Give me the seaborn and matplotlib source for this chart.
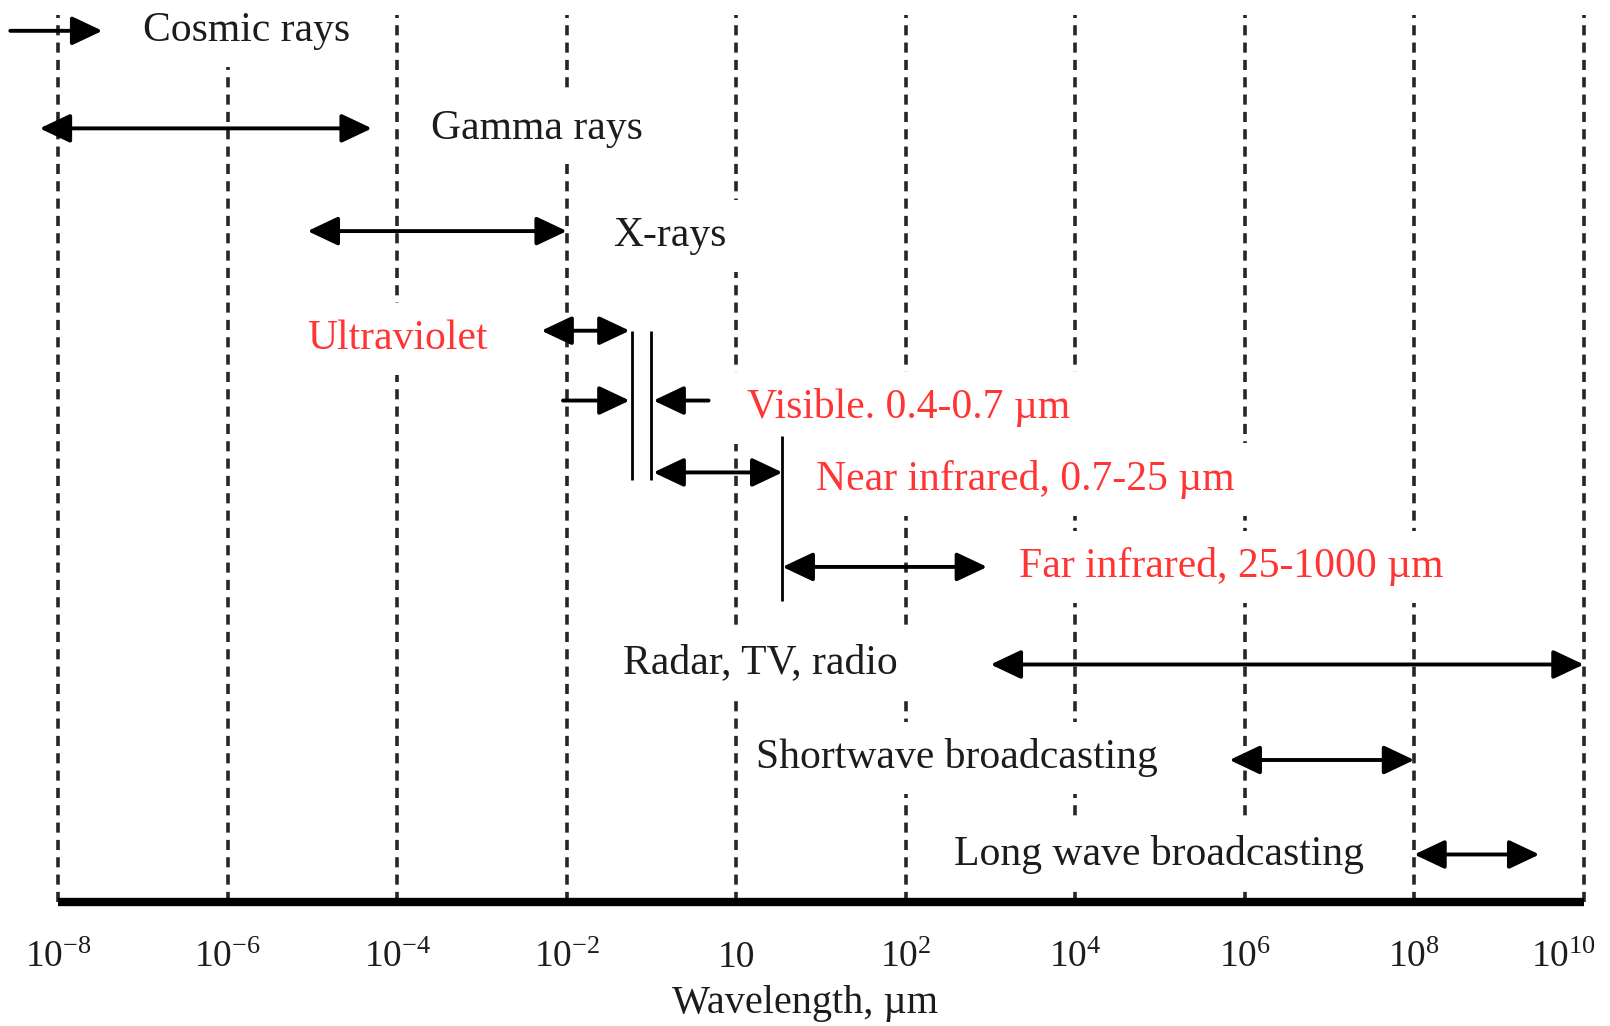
import matplotlib
matplotlib.use("Agg")
import matplotlib.pyplot as plt
import matplotlib.transforms as mtransforms
import seaborn as sns
import numpy as np
from matplotlib.ticker import FixedLocator, NullLocator

# ---------------- data ----------------
tick_values = [1e-8, 1e-6, 1e-4, 1e-2, 1e0, 1e2, 1e4, 1e6, 1e8, 1e10]
tick_labels = [r"$\mathregular{10^{-8}}$", r"$\mathregular{10^{-6}}$", r"$\mathregular{10^{-4}}$",
               r"$\mathregular{10^{-2}}$", "10", r"$\mathregular{10^{2}}$", r"$\mathregular{10^{4}}$",
               r"$\mathregular{10^{6}}$", r"$\mathregular{10^{8}}$", r"$\mathregular{10^{10}}$"]

# arrows: (start wavelength, end wavelength, row, style)
arrow_start = [2.7e-9, 6.0e-9, 8.7e-6, 5.0e-3, 9.0e-3, 0.47, 0.105, 3.5, 1.0e3, 6.6e5, 1.0e8]
arrow_end   = [3.3e-8, 5.0e-5, 1.0e-2, 0.055, 0.055, 0.105, 3.5, 910, 1.0e10, 1.0e8, 3.0e9]
arrow_row   = [30, 125, 225, 322, 390, 390, 460, 552, 647, 740, 832]
arrow_both  = [False, True, True, True, False, False, True, True, True, True, True]

# boundary lines: (wavelength, row top, row bottom)
bound_x   = [0.059, 0.098, 3.5]
bound_top = [322, 322, 425]
bound_bot = [467, 467, 585]

# labels
label_text = ["Cosmic rays", "Gamma rays", "X-rays", "Ultraviolet",
              "Visible. 0.4-0.7 \u00b5m", "Near infrared, 0.7-25 \u00b5m",
              "Far infrared, 25-1000 \u00b5m", "Radar, TV, radio",
              "Shortwave broadcasting", "Long wave broadcasting"]
label_x = [1.0e-7, 2.5e-4, 0.035, 1.15e-3, 1.35, 8.7, 2150, 0.046, 1.7, 375]
label_row = [30, 125, 230, 330, 397, 467, 552, 645, 738, 832]
label_ha = ["left", "left", "left", "right", "left", "left", "left", "left", "left", "left"]
label_red = [False, False, False, True, True, True, True, False, False, False]

# ---------------- style ----------------
sns.set_theme(style="white")
plt.rcParams["font.family"] = ["Liberation Serif", "DejaVu Serif"]
plt.rcParams["mathtext.fontset"] = "custom"
plt.rcParams["mathtext.rm"] = "Liberation Serif"

RED = "#ff3434"
TXT = "#1c1c1c"

fig = plt.figure(figsize=(16.10, 10.26), dpi=100)
y_bottom = 1 - 878 / 999
y_top = 1 - 15 / 999
ax = fig.add_axes([0, y_bottom, 1, y_top - y_bottom])
ax.set_xscale("log")
ax.set_xlim(10 ** -8.69, 10 ** 10.31)
ax.set_ylim(878, 15)

for s in ["top", "left", "right"]:
    ax.spines[s].set_visible(False)
ax.spines["bottom"].set_linewidth(6)
ax.spines["bottom"].set_color("black")
ax.spines["bottom"].set_bounds(1e-8, 1e10)
ax.spines["bottom"].set_capstyle("butt")

ax.xaxis.set_major_locator(FixedLocator(tick_values))
ax.xaxis.set_minor_locator(NullLocator())
ax.set_xticklabels(tick_labels)
ax.tick_params(axis="x", length=0, pad=28, labelsize=27, labelcolor=TXT)
ax.set_yticks([])
ax.set_xlabel("Wavelength, \u00b5m", fontsize=29, color=TXT, labelpad=7)

# keep the last tick label inside the picture, as in the reference
last = ax.get_xticklabels()[-1]
last.set_transform(last.get_transform() + mtransforms.ScaledTranslation(-0.2, 0, fig.dpi_scale_trans))

ax.grid(axis="x", which="major", linestyle=(0, (2.8, 2.0)), linewidth=2.6, color="#262626")
ax.set_axisbelow(True)

# arrows
for xs, xe, r, both in zip(arrow_start, arrow_end, arrow_row, arrow_both):
    style = "<|-|>" if both else "-|>"
    ax.annotate("", xy=(xe, r), xytext=(xs, r),
                arrowprops=dict(arrowstyle=f"{style},head_length=0.55,head_width=0.26",
                                mutation_scale=34, lw=2.8, color="black",
                                shrinkA=0, shrinkB=0),
                zorder=4)

# boundaries
ax.vlines(bound_x, bound_top, bound_bot, colors="black", linewidth=2.0, zorder=4)

# labels
for t, x, r, ha, red in zip(label_text, label_x, label_row, label_ha, label_red):
    ax.text(x, r, t, ha=ha, va="center", fontsize=30, color=RED if red else TXT,
            zorder=3, bbox=dict(boxstyle="square,pad=0.4", fc="white", ec="none"))

fig.savefig("out.png", dpi=100, facecolor="white")
